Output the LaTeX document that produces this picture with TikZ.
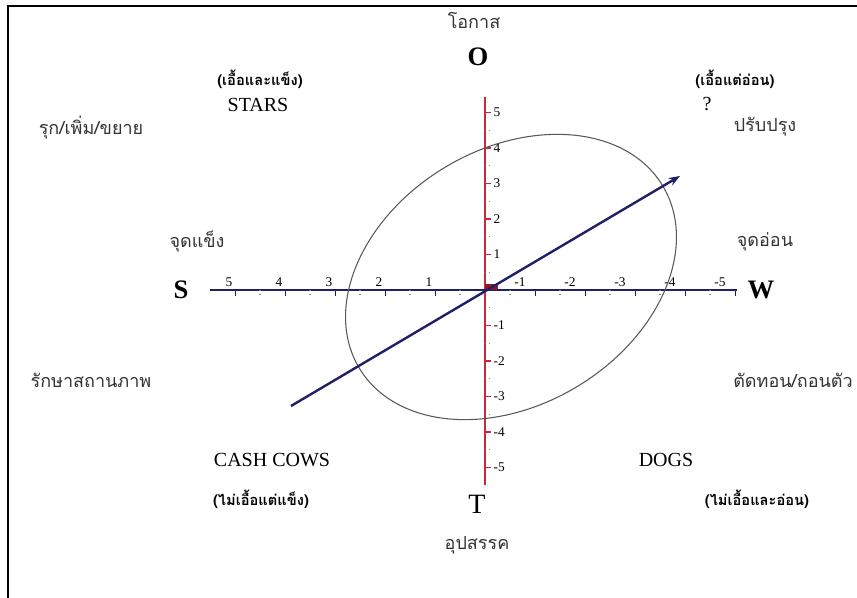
\documentclass[tikz,border=0pt]{standalone}
\usepackage{fontspec}
\setmainfont{Liberation Serif}
\newfontfamily\thaifont[Script=Thai]{Loma}
\usepackage{tikz}
\usetikzlibrary{arrows.meta, positioning, calc}
\definecolor{axisred}{RGB}{200,40,60}
\definecolor{axisnavy}{RGB}{32,32,104}
\definecolor{markred}{RGB}{150,20,40}
\tikzset{
  thai/.style={font=\thaifont\fontsize{13.5}{15}\selectfont, text=black!80, inner sep=1pt},
  note/.style={font=\thaifont\bfseries\fontsize{11}{12}\selectfont, inner sep=1pt},
  quad/.style={font=\fontsize{15}{17}\selectfont, inner sep=1pt},
  pole/.style={font=\bfseries\fontsize{20}{22}\selectfont, inner sep=1pt},
  ticklab/.style={font=\fontsize{10}{11}\selectfont, inner sep=1pt},
  vector/.style={-{Stealth[length=3mm, width=2.2mm]}, line width=1.8pt, axisnavy}
}

\begin{document}
\begin{tikzpicture}[x=0.75pt, y=0.75pt]
        \useasboundingbox (-485,-308) rectangle (372,290);

        % Frame (only top and left edges fall inside the picture)
        \draw[line width=1.6pt] (-477,-308) -- (-477,284) -- (372,284);

        % Axes
        \coordinate (axS) at (-275,0);
        \coordinate (axW) at (252,0);
        \coordinate (axO) at (0,193);
        \coordinate (axT) at (0,-195);
        \draw[axisred, line width=1.5pt] (axT) -- (axO);
        \draw[axisnavy, line width=1.5pt] (axS) -- (axW);

        % Ticks on the O-T axis
        \foreach \k in {-5,...,-1,1,2,...,5} {
          \draw[axisred, line width=0.8pt] (0,35.5*\k) -- ++(6,0);
          \node[ticklab, anchor=west] (vy\k) at (7,35.5*\k) {\k};
        }
        \foreach \k in {-5,...,4} {
          \draw[gray, dotted, line width=0.9pt] (0,35.5*\k+17.75) -- ++(5,0);
        }

        % Ticks on the S-W axis
        \foreach \k in {1,...,5} {
          \draw[axisnavy, line width=0.7pt] (-50*\k,0) -- ++(0,-6);
          \draw[axisnavy, line width=0.7pt] (50*\k,0) -- ++(0,-6);
          \node[ticklab, anchor=south] (hxp\k) at (-50*\k-6,2) {\k};
          \node[ticklab, anchor=south] (hxn\k) at (50*\k-15,2) {-\k};
        }
        \foreach \k in {0,...,4} {
          \draw[gray, dotted, line width=0.9pt] (-50*\k-25,0) -- ++(0,-5);
          \draw[gray, dotted, line width=0.9pt] (50*\k+25,0) -- ++(0,-5);
        }

        % Origin marker, ellipse and strategy vector
        \fill[markred] (0,0) rectangle (13,6);
        \coordinate (ctr) at (26,13);
        \draw[black!65, line width=0.8pt, rotate around={31:(ctr)}] (ctr) ellipse [x radius=177, y radius=128];
        \coordinate (tail) at (-194,-116);
        \coordinate (head) at (195,114);
        \draw[vector] (tail) -- (head);

        % Poles
        \node[pole] (O) at (-7,233) {O};
        \node[pole] (S) at (-304,0) {S};
        \node[pole] (W) at (276,0) {W};
        \node[font=\fontsize{21}{23}\selectfont, inner sep=1pt] (T) at (-8,-214) {T};
        \node[thai] (opp)    at (-11,270) {โอกาส};
        \node[thai] (threat) at (-8,-255) {อุปสรรค};
        \node[thai] (str)    at (-288,48) {จุดแข็ง};
        \node[thai] (weak)   at (280,48) {จุดอ่อน};

        % Quadrants
        \node[note] (starsN) at (-225,211) {(เอื้อและแข็ง)};
        \node[quad] (stars)  at (-227,185) {STARS};
        \node[thai] (grow)   at (-394,162) {รุก/เพิ่ม/ขยาย};

        \node[note] (qN)     at (250,211) {(เอื้อแต่อ่อน)};
        \node[quad] (qmark)  at (222,186) {?};
        \node[thai] (fix)    at (280,163) {ปรับปรุง};

        \node[thai] (keep)   at (-394,-90) {รักษาสถานภาพ};
        \node[quad] (cows)   at (-213,-170) {CASH COWS};
        \node[note] (cowsN)  at (-224,-209) {(ไม่เอื้อแต่แข็ง)};

        \node[thai] (cut)    at (308,-90) {ตัดทอน/ถอนตัว};
        \node[quad] (dogs)   at (181,-170) {DOGS};
        \node[note] (dogsN)  at (272,-209) {(ไม่เอื้อและอ่อน)};
    \end{tikzpicture}
\end{document}
